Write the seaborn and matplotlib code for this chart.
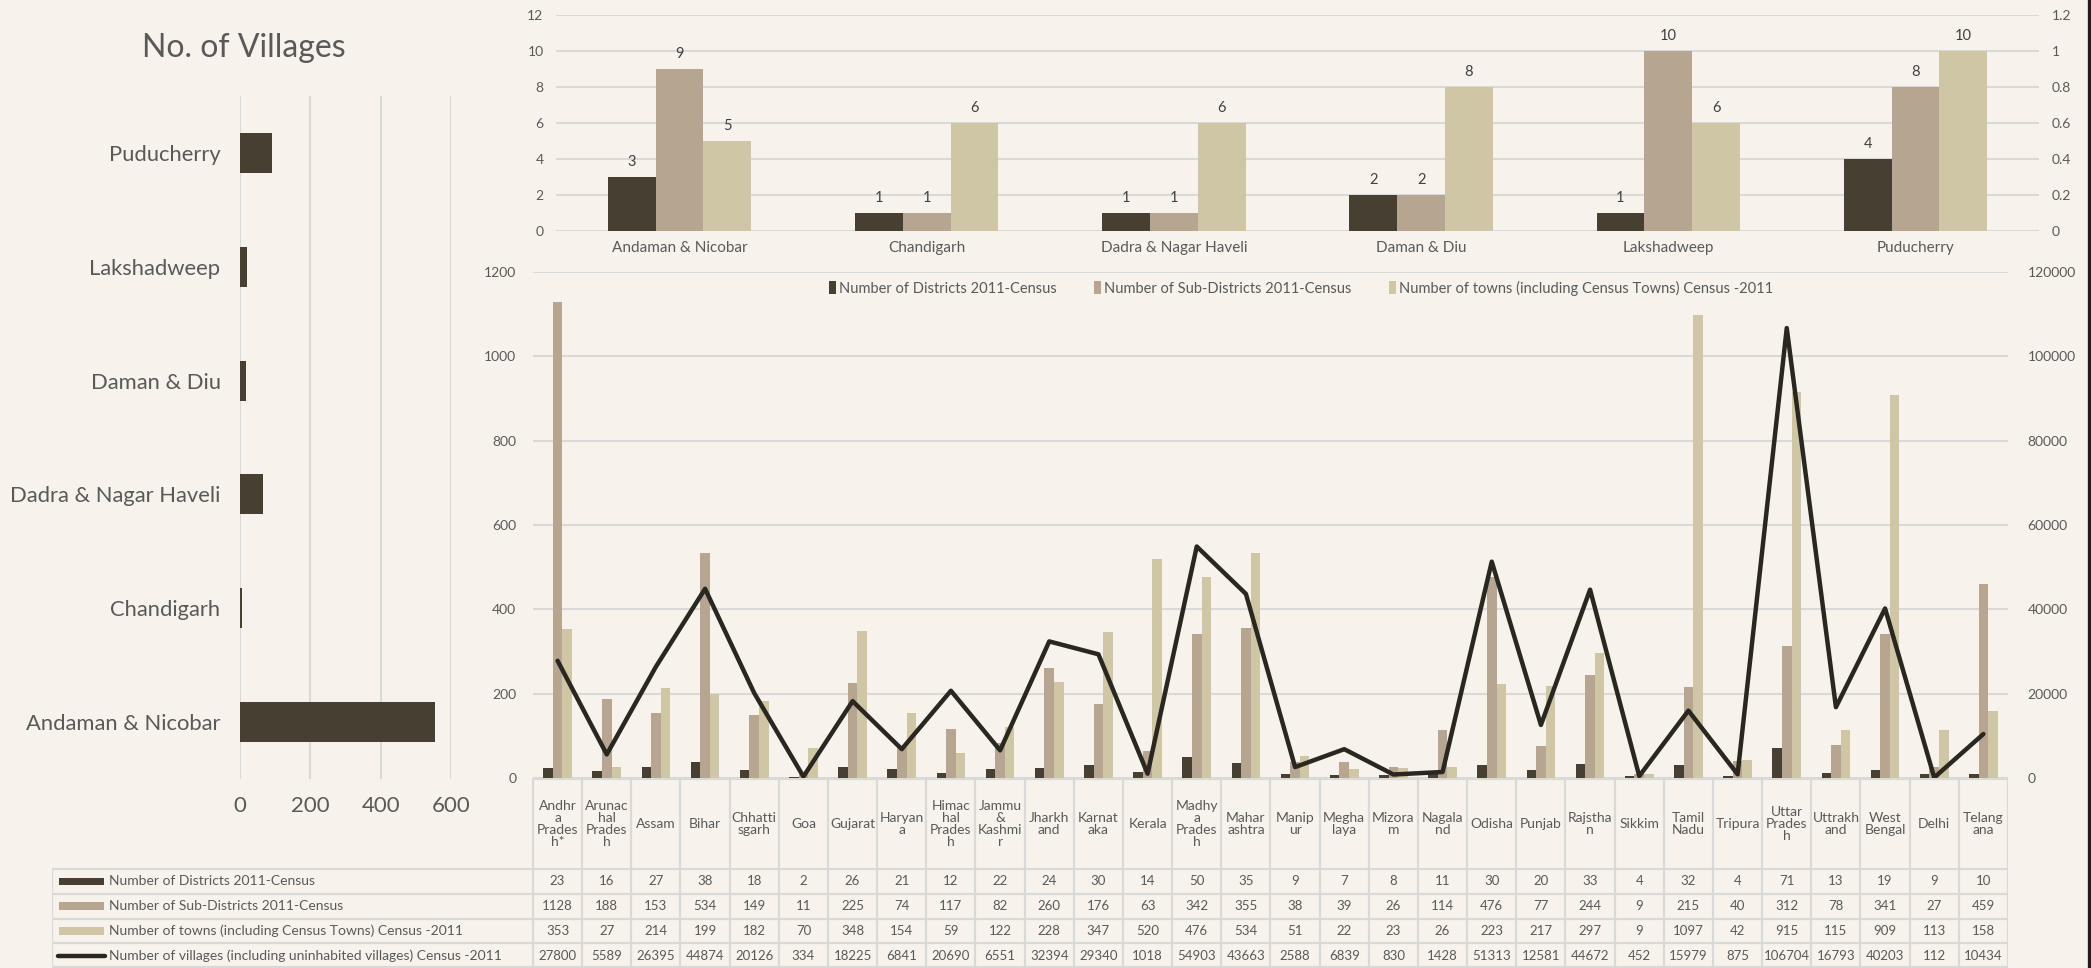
import numpy as np
import pandas as pd
import matplotlib
matplotlib.use("Agg")
import matplotlib.pyplot as plt
from matplotlib.patches import Rectangle, Patch
from matplotlib.lines import Line2D
import seaborn as sns

# ---------------- data ----------------
states = ["Andhra Pradesh*", "Arunachal Pradesh", "Assam", "Bihar", "Chhattisgarh", "Goa",
          "Gujarat", "Haryana", "Himachal Pradesh", "Jammu & Kashmir", "Jharkhand", "Karnataka",
          "Kerala", "Madhya Pradesh", "Maharashtra", "Manipur", "Meghalaya", "Mizoram",
          "Nagaland", "Odisha", "Punjab", "Rajsthan", "Sikkim", "Tamil Nadu", "Tripura",
          "Uttar Pradesh", "Uttrakhand", "West Bengal", "Delhi", "Telangana"]
state_labels = ["Andhr\na\nPrades\nh*", "Arunac\nhal\nPrades\nh", "Assam", "Bihar", "Chhatti\nsgarh",
                "Goa", "Gujarat", "Haryan\na", "Himac\nhal\nPrades\nh", "Jammu\n&\nKashmi\nr",
                "Jharkh\nand", "Karnat\naka", "Kerala", "Madhy\na\nPrades\nh", "Mahar\nashtra",
                "Manip\nur", "Megha\nlaya", "Mizora\nm", "Nagala\nnd", "Odisha", "Punjab",
                "Rajstha\nn", "Sikkim", "Tamil\nNadu", "Tripura", "Uttar\nPrades\nh", "Uttrakh\nand",
                "West\nBengal", "Delhi", "Telang\nana"]
districts = [23, 16, 27, 38, 18, 2, 26, 21, 12, 22, 24, 30, 14, 50, 35, 9, 7, 8, 11, 30,
             20, 33, 4, 32, 4, 71, 13, 19, 9, 10]
sub_districts = [1128, 188, 153, 534, 149, 11, 225, 74, 117, 82, 260, 176, 63, 342, 355, 38, 39,
                 26, 114, 476, 77, 244, 9, 215, 40, 312, 78, 341, 27, 459]
towns = [353, 27, 214, 199, 182, 70, 348, 154, 59, 122, 228, 347, 520, 476, 534, 51, 22, 23, 26,
         223, 217, 297, 9, 1097, 42, 915, 115, 909, 113, 158]
villages = [27800, 5589, 26395, 44874, 20126, 334, 18225, 6841, 20690, 6551, 32394, 29340, 1018,
            54903, 43663, 2588, 6839, 830, 1428, 51313, 12581, 44672, 452, 15979, 875, 106704,
            16793, 40203, 112, 10434]

ut_names = ["Andaman & Nicobar", "Chandigarh", "Dadra & Nagar Haveli", "Daman & Diu",
            "Lakshadweep", "Puducherry"]
ut_districts = [3, 1, 1, 2, 1, 4]
ut_sub_districts = [9, 1, 1, 2, 10, 8]
ut_towns = [5, 6, 6, 8, 6, 10]
ut_villages = [555, 5, 65, 17, 20, 90]

series_names = ["Number of Districts 2011-Census",
                "Number of Sub-Districts 2011-Census",
                "Number of towns (including Census Towns) Census -2011"]
line_name = "Number of villages (including uninhabited villages) Census -2011"

# ---------------- style ----------------
BG = "#f7f3ec"
C_DARK = "#474032"
C_MID = "#b6a591"
C_LIGHT = "#cfc6a5"
C_LINE = "#2a2620"
C_GRID = "#d9d9d9"
C_TEXT = "#595959"
palette = [C_DARK, C_MID, C_LIGHT]

sns.set_theme(style="white")
plt.rcParams["font.family"] = ["Lato", "DejaVu Sans"]
plt.rcParams["text.color"] = C_TEXT
plt.rcParams["axes.labelcolor"] = C_TEXT
plt.rcParams["xtick.color"] = C_TEXT
plt.rcParams["ytick.color"] = C_TEXT

W, H = 2091, 968
fig = plt.figure(figsize=(W / 100, H / 100), dpi=100, facecolor=BG)


def box(x0, y0, x1, y1):
    return [x0 / W, 1 - y1 / H, (x1 - x0) / W, (y1 - y0) / H]


def clean(ax):
    ax.set_facecolor(BG)
    for s in ax.spines.values():
        s.set_visible(False)
    ax.set_xlabel("")
    ax.set_ylabel("")


# ---------------- left: villages in union territories ----------------
ax_v = fig.add_axes(box(240, 96, 451, 779))
df_v = pd.DataFrame({"ut": ut_names, "villages": ut_villages})
sns.barplot(data=df_v, y="ut", x="villages", order=ut_names[::-1], color=C_DARK,
            saturation=1, width=0.35, linewidth=0, errorbar=None, ax=ax_v)
clean(ax_v)
ax_v.set_xlim(0, 600)
ax_v.set_xticks([0, 200, 400, 600])
ax_v.grid(axis="x", color=C_GRID, lw=1.5)
ax_v.grid(axis="y", visible=False)
ax_v.set_axisbelow(True)
ax_v.tick_params(axis="x", length=0, labelsize=16, pad=12)
ax_v.tick_params(axis="y", length=0, labelsize=15.8, pad=14)
fig.text(244 / W, 1 - 48 / H, "No. of Villages", ha="center", va="center",
         fontsize=23, color=C_TEXT)

# ---------------- top: union territory counts ----------------
ax_t = fig.add_axes(box(556, 15, 2039, 231))
df_t = pd.DataFrame({
    "ut": ut_names * 3,
    "series": np.repeat(series_names, len(ut_names)),
    "value": ut_districts + ut_sub_districts + ut_towns,
})
sns.barplot(data=df_t, x="ut", y="value", hue="series", order=ut_names,
            hue_order=series_names, palette=palette, saturation=1, width=0.58,
            linewidth=0, errorbar=None, legend=False, ax=ax_t)
clean(ax_t)
for cont in ax_t.containers:
    ax_t.bar_label(cont, padding=6, fontsize=10.5, color="#404040")
ax_t.set_ylim(0, 12)
ax_t.set_yticks(range(0, 13, 2))
ax_t.grid(axis="y", color=C_GRID, lw=1.5)
ax_t.grid(axis="x", visible=False)
ax_t.set_axisbelow(True)
ax_t.tick_params(axis="y", length=0, labelsize=10, pad=9)
ax_t.tick_params(axis="x", length=0, labelsize=11, pad=7)
ax_t2 = ax_t.twinx()
ax_t2.set_ylim(0, 1.2)
t2 = np.round(np.arange(0, 1.21, 0.2), 1)
ax_t2.set_yticks(t2, labels=[f"{v:g}" for v in t2])
for s in ax_t2.spines.values():
    s.set_visible(False)
ax_t2.tick_params(axis="y", length=0, labelsize=10, pad=9)
ax_t2.grid(False)

# ---------------- main: states ----------------
ax_m = fig.add_axes(box(533, 272, 2008, 778))
df_m = pd.DataFrame({
    "state": states * 3,
    "series": np.repeat(series_names, len(states)),
    "value": districts + sub_districts + towns,
})
sns.barplot(data=df_m, x="state", y="value", hue="series", order=states,
            hue_order=series_names, palette=palette, saturation=1, width=0.58,
            linewidth=0, errorbar=None, legend=False, ax=ax_m)
clean(ax_m)
ax_m.set_ylim(0, 1200)
ax_m.set_yticks(range(0, 1201, 200))
ax_m.grid(axis="y", color=C_GRID, lw=1.5)
ax_m.grid(axis="x", visible=False)
ax_m.set_axisbelow(True)
ax_m.set_xticks([])
ax_m.tick_params(axis="y", length=0, labelsize=10, pad=12)

ax_m2 = ax_m.twinx()
sns.lineplot(x=np.arange(len(states)), y=villages, ax=ax_m2, color=C_LINE, lw=3.2,
             solid_joinstyle="round", solid_capstyle="round")
ax_m2.set_ylim(0, 120000)
t3 = list(range(0, 120001, 20000))
ax_m2.set_yticks(t3, labels=[str(v) for v in t3])
for s in ax_m2.spines.values():
    s.set_visible(False)
ax_m2.tick_params(axis="y", length=0, labelsize=10, pad=14)
ax_m2.grid(False)
ax_m2.set_ylabel("")
ax_m.set_xlim(-0.5, len(states) - 0.5)

fig.legend(handles=[Patch(facecolor=c, edgecolor="none") for c in palette],
           labels=series_names, loc="center", bbox_to_anchor=(1301 / W, 1 - 288 / H),
           ncol=3, frameon=False, fontsize=10.5, handlelength=0.45, handleheight=0.9,
           handletextpad=0.2, columnspacing=2.6, labelcolor=C_TEXT)

# ---------------- data table ----------------
LEG_W = 9.783
ax_tab = fig.add_axes(box(52, 778, 2008, 968))
ax_tab.set_facecolor("none")
x_left = -0.5 - LEG_W
x_right = len(states) - 0.5
ax_tab.set_xlim(x_left, x_right)
ax_tab.set_ylim(190, 0)
ax_tab.axis("off")
header_h = 91
row_h = (190 - header_h) / 4
line_kw = dict(color=C_GRID, lw=1.6, solid_capstyle="butt")

ax_tab.plot([-0.5, x_right], [0.8, 0.8], **line_kw)
for r in range(5):
    y = min(header_h + r * row_h, 189.2)
    ax_tab.plot([x_left, x_right], [y, y], **line_kw)
for i in range(len(states) + 1):
    ax_tab.plot([i - 0.5, i - 0.5], [0, 190], **line_kw)
ax_tab.plot([x_left, x_left], [header_h, 190], **line_kw)

for i, lab in enumerate(state_labels):
    ax_tab.text(i, header_h / 2, lab, ha="center", va="center", fontsize=10,
                linespacing=1.0, color=C_TEXT)

rows = [districts, sub_districts, towns, villages]
for r, vals in enumerate(rows):
    yc = header_h + (r + 0.5) * row_h
    for i, v in enumerate(vals):
        ax_tab.text(i, yc, str(v), ha="center", va="center", fontsize=9.5, color=C_TEXT)

legend_labels = series_names + [line_name]
for r, lab in enumerate(legend_labels):
    yc = header_h + (r + 0.5) * row_h
    if r < 3:
        ax_tab.add_patch(Rectangle((x_left + 0.142, yc - 3.8), 0.916, 7.6,
                                   facecolor=palette[r], edgecolor="none"))
    else:
        ax_tab.plot([x_left + 0.12, x_left + 1.08], [yc, yc], color=C_LINE, lw=3.2,
                    solid_capstyle="round")
    ax_tab.text(x_left + 1.16, yc, lab, ha="left", va="center", fontsize=10, color=C_TEXT)

# right frame edge
fig.add_artist(Line2D([2088.5 / W, 2088.5 / W], [0, 1], color="#1e1e1e", lw=2.4))

fig.savefig("out.png", dpi=100, facecolor=BG)
